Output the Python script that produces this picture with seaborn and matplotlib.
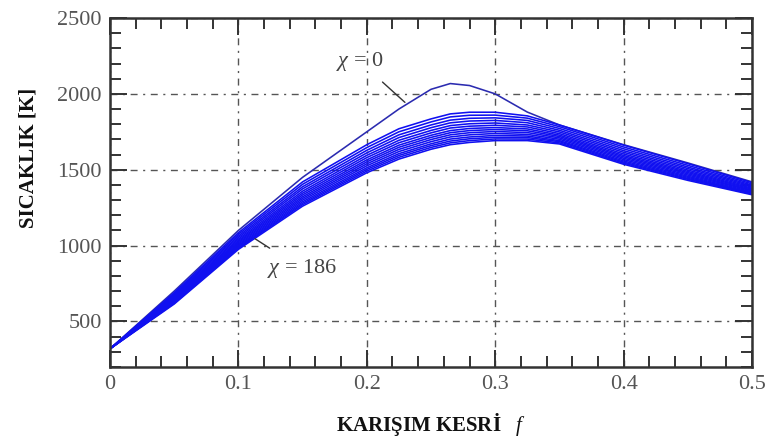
import numpy as np
import pandas as pd
import matplotlib
matplotlib.use("Agg")
import matplotlib.pyplot as plt
from matplotlib.ticker import MultipleLocator
import seaborn as sns

# mixture fraction grid
f_grid = [0.0, 0.05, 0.1, 0.15, 0.2, 0.225, 0.25, 0.265, 0.28, 0.3, 0.325, 0.35, 0.4, 0.45, 0.5]

# flamelet temperature profiles [K], one per scalar dissipation rate chi
T_chi0   = [320, 700, 1100, 1450, 1750, 1900, 2030, 2068, 2055, 2000, 1880, 1795, 1665, 1545, 1420]
T_chi5   = [320, 690, 1085, 1420, 1665, 1770, 1835, 1868, 1879, 1879, 1855, 1795, 1662, 1540, 1415]
T_chi10  = [320, 682, 1074, 1404, 1646, 1750, 1815, 1848, 1859, 1860, 1840, 1784, 1650, 1529, 1407]
T_chi20  = [320, 675, 1063, 1388, 1628, 1730, 1795, 1827, 1839, 1842, 1825, 1772, 1638, 1518, 1399]
T_chi30  = [320, 668, 1053, 1374, 1611, 1712, 1777, 1809, 1821, 1825, 1810, 1760, 1626, 1508, 1392]
T_chi40  = [320, 661, 1043, 1359, 1595, 1694, 1759, 1791, 1803, 1808, 1795, 1749, 1615, 1498, 1385]
T_chi50  = [320, 655, 1034, 1346, 1580, 1678, 1743, 1775, 1787, 1793, 1782, 1738, 1604, 1489, 1378]
T_chi60  = [320, 649, 1026, 1334, 1565, 1662, 1727, 1758, 1772, 1778, 1769, 1728, 1594, 1481, 1372]
T_chi70  = [320, 644, 1018, 1322, 1552, 1648, 1713, 1744, 1758, 1765, 1757, 1719, 1585, 1473, 1366]
T_chi80  = [320, 639, 1010, 1311, 1539, 1634, 1699, 1730, 1744, 1752, 1745, 1710, 1576, 1465, 1361]
T_chi95  = [320, 634, 1002, 1300, 1526, 1620, 1685, 1716, 1730, 1739, 1733, 1701, 1567, 1457, 1355]
T_chi110 = [320, 628, 995, 1289, 1513, 1606, 1671, 1702, 1716, 1726, 1722, 1692, 1558, 1450, 1349]
T_chi130 = [320, 624, 988, 1279, 1502, 1594, 1659, 1689, 1704, 1714, 1712, 1685, 1550, 1443, 1345]
T_chi155 = [320, 620, 982, 1270, 1491, 1582, 1647, 1677, 1692, 1703, 1702, 1677, 1543, 1437, 1340]
T_chi186 = [320, 615, 975, 1260, 1480, 1570, 1635, 1665, 1680, 1692, 1692, 1670, 1536, 1430, 1335]

chi_values = [0, 5, 10, 20, 30, 40, 50, 60, 70, 80, 95, 110, 130, 155, 186]
profiles = [T_chi0, T_chi5, T_chi10, T_chi20, T_chi30, T_chi40, T_chi50, T_chi60,
            T_chi70, T_chi80, T_chi95, T_chi110, T_chi130, T_chi155, T_chi186]

x_ticks = [0, 0.1, 0.2, 0.3, 0.4, 0.5]
x_tick_labels = ["0", "0.1", "0.2", "0.3", "0.4", "0.5"]
y_ticks = [500, 1000, 1500, 2000, 2500]
y_tick_labels = ["500", "1000", "1500", "2000", "2500"]

rows = []
for chi, T in zip(chi_values, profiles):
    for f, t in zip(f_grid, T):
        rows.append({"f": f, "T": t, "chi": chi})
df = pd.DataFrame(rows)

sns.set_theme(style="white")
plt.rcParams["font.family"] = ["Liberation Serif", "DejaVu Serif"]
plt.rcParams["mathtext.fontset"] = "custom"
plt.rcParams["mathtext.it"] = "Liberation Serif:italic"
plt.rcParams["mathtext.rm"] = "Liberation Serif"

fig = plt.figure(figsize=(7.76, 4.42), dpi=100)
ax = fig.add_axes([110 / 776, 1 - 367 / 442, 642 / 776, 349 / 442])

palette = {c: ("#2b2bb0" if c == 0 else "#1010f0") for c in chi_values}
sns.lineplot(data=df, x="f", y="T", hue="chi", palette=palette, legend=False,
             linewidth=1.15, ax=ax, sort=False, estimator=None)

ax.set_xlim(0, 0.5)
ax.set_ylim(200, 2500)
ax.set_xticks(x_ticks)
ax.set_xticklabels(x_tick_labels)
ax.set_yticks(y_ticks)
ax.set_yticklabels(y_tick_labels)
ax.xaxis.set_minor_locator(MultipleLocator(0.02))
ax.yaxis.set_minor_locator(MultipleLocator(100))

ax.tick_params(which="both", direction="in", top=True, right=True, bottom=True, left=True,
               colors="#333333", labelcolor="#555555", labelsize=16, width=1.4)
ax.tick_params(which="major", length=12, pad=6)
ax.tick_params(which="minor", length=8)

ax.grid(True, which="major", color="#555555", linestyle=(0, (5, 4, 1.5, 4)), linewidth=1.0)
for s in ax.spines.values():
    s.set_color("#333333")
    s.set_linewidth(1.8)

ax.set_xlabel("KARIŞIM KESRİ   $\\mathit{f}$", fontsize=15, fontweight="bold", color="#111111")
ax.set_ylabel("SICAKLIK [K]", fontsize=15, fontweight="bold", color="#111111")
ax.xaxis.set_label_coords(0.5, -0.125)
ax.yaxis.set_label_coords(-0.112, 0.6)

ax.annotate("$\\chi$ = 0", xy=(0.2297, 1944), xytext=(0.1947, 2212),
            ha="center", va="center", fontsize=16, color="#444444",
            arrowprops=dict(arrowstyle="-", color="#333333", lw=1.0, shrinkA=6, shrinkB=0))
ax.annotate("$\\chi$ = 186", xy=(0.113, 1045), xytext=(0.1495, 846),
            ha="center", va="center", fontsize=16, color="#444444",
            arrowprops=dict(arrowstyle="-", color="#333333", lw=1.0, shrinkA=8, shrinkB=0))

fig.savefig("out.png", dpi=100)
